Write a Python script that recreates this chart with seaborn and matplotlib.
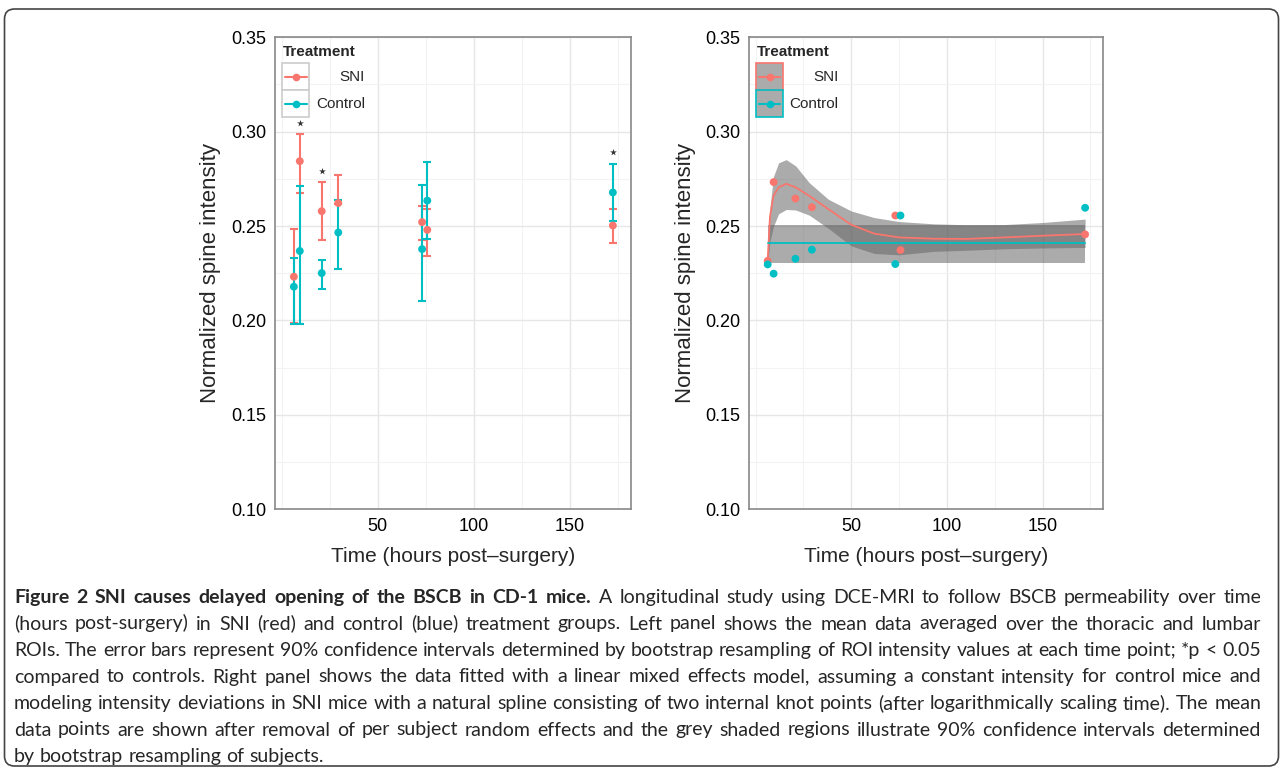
import matplotlib
matplotlib.use("Agg")
import matplotlib.pyplot as plt
from matplotlib.patches import Rectangle, FancyBboxPatch
from matplotlib.lines import Line2D
import pandas as pd
import seaborn as sns

# time points (hours post-surgery)
hours = [6.3, 9.4, 20.8, 29.4, 73.0, 75.7, 172.2]

# left panel: means with 90% bootstrap CIs
sni_mean = [0.2232, 0.2844, 0.2579, 0.2622, 0.2521, 0.2480, 0.2503]
sni_lo = [0.1985, 0.2676, 0.2427, 0.2615, 0.2427, 0.2343, 0.2408]
sni_hi = [0.2486, 0.2988, 0.2731, 0.2771, 0.2609, 0.2591, 0.2591]
ctl_mean = [0.2179, 0.2368, 0.2251, 0.2466, 0.2378, 0.2635, 0.2678]
ctl_lo = [0.1983, 0.1983, 0.2165, 0.2274, 0.2101, 0.2433, 0.2525]
ctl_hi = [0.2332, 0.2710, 0.2318, 0.2639, 0.2715, 0.2837, 0.2830]

# significance stars (index into hours, y position)
star_idx = [1, 2, 6]
star_y = [0.3045, 0.2790, 0.2890]

# right panel: points after removing random effects
sni_adj = [0.2316, 0.2733, 0.2646, 0.2600, 0.2556, 0.2373, 0.2456]
ctl_adj = [0.2297, 0.2248, 0.2327, 0.2375, 0.2299, 0.2556, 0.2597]

# SNI spline fit and its 90% band
fit_t = [6.3, 7.5, 9.3, 12, 16, 21, 28, 38, 50, 62, 75, 93, 110, 130, 150, 172.2]
fit_y = [0.2322, 0.2550, 0.2660, 0.2705, 0.2724, 0.2705, 0.2660, 0.2590,
         0.2507, 0.2460, 0.2440, 0.2433, 0.2432, 0.2440, 0.2449, 0.2458]
fit_hi = [0.2345, 0.2600, 0.2762, 0.2835, 0.2852, 0.2818, 0.2730, 0.2642,
          0.2580, 0.2545, 0.2524, 0.2512, 0.2507, 0.2508, 0.2519, 0.2537]
fit_lo = [0.2300, 0.2420, 0.2498, 0.2565, 0.2588, 0.2585, 0.2558, 0.2488,
          0.2395, 0.2355, 0.2348, 0.2366, 0.2372, 0.2380, 0.2384, 0.2387]

# control constant fit
ctl_level = 0.2408
ctl_band = [0.2307, 0.2507]

groups = ["SNI", "Control"]
colors = {"SNI": "#F8766D", "Control": "#00BFC4"}

caption_bold = "Figure 2 SNI causes delayed opening of the BSCB in CD-1 mice."
caption_lines = [
    "A longitudinal study using DCE-MRI to follow BSCB permeability over time",
    "(hours post-surgery) in SNI (red) and control (blue) treatment groups. Left panel shows the mean data averaged over the thoracic and lumbar",
    "ROIs. The error bars represent 90% confidence intervals determined by bootstrap resampling of ROI intensity values at each time point; *p < 0.05",
    "compared to controls. Right panel shows the data fitted with a linear mixed effects model, assuming a constant intensity for control mice and",
    "modeling intensity deviations in SNI mice with a natural spline consisting of two internal knot points (after logarithmically scaling time). The mean",
    "data points are shown after removal of per subject random effects and the grey shaded regions illustrate 90% confidence intervals determined",
    "by bootstrap resampling of subjects.",
]

sns.set_style("white")
plt.rcParams["font.family"] = ["Liberation Sans", "DejaVu Sans"]

fig = plt.figure(figsize=(12.82, 7.72), dpi=100)
ax1 = fig.add_axes([0.2145, 0.3403, 0.2775, 0.6114])
ax2 = fig.add_axes([0.5842, 0.3403, 0.2761, 0.6114])

left_df = pd.DataFrame({
    "hours": hours * 2,
    "value": sni_mean + ctl_mean,
    "Treatment": ["SNI"] * len(hours) + ["Control"] * len(hours),
})
right_df = pd.DataFrame({
    "hours": hours * 2,
    "value": sni_adj + ctl_adj,
    "Treatment": ["SNI"] * len(hours) + ["Control"] * len(hours),
})


def style_axes(ax):
    ax.set_xlim(-3.5, 181.5)
    ax.set_ylim(0.10, 0.35)
    ax.set_xticks([50, 100, 150])
    ax.set_xticks([0, 25, 75, 125, 175], minor=True)
    yt = [0.10, 0.15, 0.20, 0.25, 0.30, 0.35]
    ax.set_yticks(yt)
    ax.set_yticks([0.125, 0.175, 0.225, 0.275, 0.325], minor=True)
    ax.set_yticklabels([f"{v:.2f}" for v in yt])
    ax.grid(True, which="major", color="#E6E6E6", lw=1.0, zorder=0)
    ax.grid(True, which="minor", color="#F3F3F3", lw=0.8, zorder=0)
    ax.set_axisbelow(True)
    ax.tick_params(which="major", direction="out", length=4, width=0.9,
                   color="#333333", labelsize=13, labelcolor="black", pad=2)
    ax.tick_params(which="minor", length=0)
    for s in ax.spines.values():
        s.set_color("#888888")
        s.set_linewidth(1.2)
    ax.set_xlabel("Time (hours post\u2013surgery)", fontsize=15)
    ax.set_ylabel("Normalized spine intensity", fontsize=16)
    ax.xaxis.set_label_coords(0.5, -0.101)
    ax.xaxis.label.set_va("center")
    ax.yaxis.set_label_coords(-0.18, 0.5)
    ax.yaxis.label.set_va("center")


def draw_key(ax, filled):
    ax.text(0.0225, 0.968, "Treatment", transform=ax.transAxes, fontsize=11,
            fontweight="bold", ha="left", va="center")
    for i, g in enumerate(groups):
        y0 = 0.8877 - i * 0.0572
        face = "#ABABAB" if filled else "white"
        edge = colors[g] if filled else "#CCCCCC"
        ax.add_patch(Rectangle((0.0205, y0), 0.076, 0.0572, transform=ax.transAxes,
                               facecolor=face, edgecolor=edge, lw=1.2, zorder=5))
        yc = y0 + 0.0286
        ax.add_line(Line2D([0.028, 0.089], [yc, yc], transform=ax.transAxes,
                           color=colors[g], lw=1.5, zorder=6))
        ax.add_line(Line2D([0.0585], [yc], transform=ax.transAxes, marker="o",
                           markersize=5.5, color=colors[g], markeredgewidth=0, zorder=7))
        ax.text(0.253, yc, g, transform=ax.transAxes, fontsize=11,
                ha="right", va="center", zorder=7)


# left panel: error bars then points
for g, m, lo, hi in [("SNI", sni_mean, sni_lo, sni_hi), ("Control", ctl_mean, ctl_lo, ctl_hi)]:
    err = [[a - b for a, b in zip(m, lo)], [b - a for a, b in zip(m, hi)]]
    ax1.errorbar(hours, m, yerr=err, fmt="none", ecolor=colors[g],
                 elinewidth=1.5, capsize=2.6, capthick=1.5, zorder=3)
sns.scatterplot(data=left_df, x="hours", y="value", hue="Treatment",
                palette=colors, s=32, linewidth=0, legend=False, ax=ax1, zorder=4)
ax1.scatter([hours[i] for i in star_idx], star_y, marker="*", s=26,
            color="#333333", linewidths=0, zorder=4)

# right panel: bands, fits, points
ax2.fill_between([hours[0], hours[-1]], [ctl_band[0]] * 2, [ctl_band[1]] * 2,
                 color="#666666", alpha=0.55, lw=0, zorder=2)
ax2.fill_between(fit_t, fit_lo, fit_hi, color="#666666", alpha=0.55, lw=0, zorder=2)
sns.lineplot(x=fit_t, y=fit_y, color=colors["SNI"], lw=1.3, ax=ax2, zorder=3)
sns.lineplot(x=[hours[0], hours[-1]], y=[ctl_level, ctl_level],
             color=colors["Control"], lw=1.3, ax=ax2, zorder=3)
sns.scatterplot(data=right_df, x="hours", y="value", hue="Treatment",
                palette=colors, s=32, linewidth=0, legend=False, ax=ax2, zorder=4)

for ax, filled in [(ax1, False), (ax2, True)]:
    style_axes(ax)
    draw_key(ax, filled)

# caption, justified between left and right margins (pixel coords)
cap_font = "Lato"
cap_size = 14.0
line_y = [597, 623.5, 650, 676.5, 703, 729.5, 756]
x_left, x_right = 14, 1261
W, H = 1282, 772
renderer = fig.canvas.get_renderer()


def text_width(s, weight):
    t = fig.text(0, 0, s, fontfamily=cap_font, fontsize=cap_size, fontweight=weight)
    w = t.get_window_extent(renderer).width
    t.remove()
    return w


space = text_width("a a", "normal") - 2 * text_width("a", "normal")
for li, (yl, line) in enumerate(zip(line_y, caption_lines)):
    words = [(w, "normal") for w in line.split(" ")]
    if li == 0:
        words = [(w, "bold") for w in caption_bold.split(" ")] + words
    widths = [text_width(w, wt) for w, wt in words]
    if li < len(caption_lines) - 1:
        gap = (x_right - x_left - sum(widths)) / (len(words) - 1)
    else:
        gap = space
    x = x_left
    for (w, wt), wd in zip(words, widths):
        fig.text(x / W, 1 - (yl + 6) / H, w, fontfamily=cap_font, fontsize=cap_size,
                 fontweight=wt, va="baseline", ha="left")
        x += wd + gap

fig.patches.append(FancyBboxPatch((4.5, 6), 1274, 757, boxstyle="round,pad=0,rounding_size=10",
                                  transform=None, figure=fig, facecolor="none",
                                  edgecolor="#444444", lw=1.2))

fig.savefig("out.png", dpi=100)
